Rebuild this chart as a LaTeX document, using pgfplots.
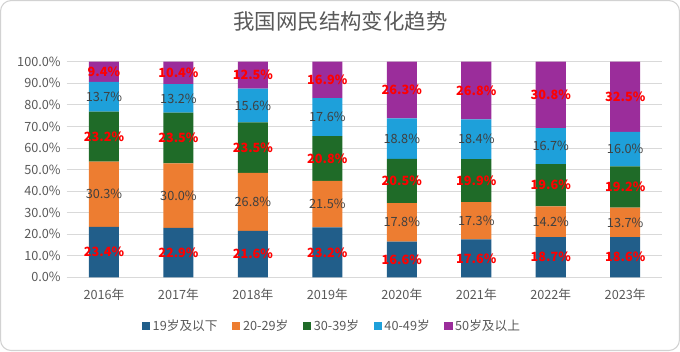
\documentclass[border=0pt]{standalone}
\usepackage{fontspec}
\setmainfont{Noto Sans CJK SC}
\usepackage{pgfplots}
\usepackage{pgfplotstable}
\pgfplotsset{compat=1.18}
\definecolor{cA}{HTML}{215E8A}
\definecolor{cB}{HTML}{ED7D31}
\definecolor{cC}{HTML}{1F6B28}
\definecolor{cD}{HTML}{1EA0DA}
\definecolor{cE}{HTML}{9B2D9B}
\definecolor{txt}{HTML}{595959}
\definecolor{lab}{HTML}{404040}
\definecolor{rd}{HTML}{FF0000}
\pgfplotstableread{
x s1 s2 s3 s4 s5
0 23.4 30.3 23.2 13.7 9.4
1 22.9 30.0 23.5 13.2 10.4
2 21.6 26.8 23.5 15.6 12.5
3 23.2 21.5 20.8 17.6 16.9
4 16.6 17.8 20.5 18.8 26.3
5 17.6 17.3 19.9 18.4 26.8
6 18.7 14.2 19.6 16.7 30.8
7 18.6 13.7 19.2 16.0 32.5
}\datatable
\pgfplotsset{
  seglabel/.style 2 args={
    visualization depends on={rawy\as\rawv},
    nodes near coords={\pgfmathprintnumber[fixed,fixed zerofill,precision=1]{\rawv}\%},
    every node near coord/.append style={anchor=center, text=#1, font=\fontsize{9.5}{11}\selectfont#2},
  },
}
\begin{document}
\begin{tikzpicture}
\draw[gray!35, line width=0.8pt, rounded corners=8pt] (-49.5pt,-54.75pt) rectangle (458.25pt,207pt);
\node[text=txt, font=\fontsize{16}{18}\selectfont] at (204.75pt,191.25pt) {我国网民结构变化趋势};
\begin{axis}[
  at={(0pt,0pt)}, anchor=south west,
  scale only axis, width=445.5pt, height=161.25pt,
  ybar stacked, bar width=22.5pt,
  xmin=-0.5, xmax=7.5, ymin=0, ymax=100,
  xtick={0,...,7},
  xticklabels={2016年,2017年,2018年,2019年,2020年,2021年,2022年,2023年},
  ytick={0,10,...,100},
  yticklabel={\pgfmathprintnumber[fixed,fixed zerofill,precision=1]{\tick}\%},
  /pgf/number format/assume math mode=true,
  ymajorgrids, grid style={draw=gray!30, line width=0.6pt},
  axis line style={draw=none}, tick style={draw=none},
  ticklabel style={text=txt, font=\fontsize{9.5}{11}\selectfont},
  yticklabel style={xshift=-1pt},
  xticklabel style={yshift=-5pt},
  legend columns=5,
  legend style={at={(0.446,-0.228)}, anchor=center, draw=none, fill=none,
     font=\fontsize{9.5}{11}\selectfont, text=txt,
     /tikz/every even column/.append style={column sep=9pt}},
  legend image code/.code={\fill[#1] (0pt,-3pt) rectangle (6pt,3pt);},
]
\addplot[fill=cA, draw=none, seglabel={rd}{\bfseries}] table[x=x, y=s1] {\datatable};
\addplot[fill=cB, draw=none, seglabel={lab}{}] table[x=x, y=s2] {\datatable};
\addplot[fill=cC, draw=none, seglabel={rd}{\bfseries}] table[x=x, y=s3] {\datatable};
\addplot[fill=cD, draw=none, seglabel={lab}{}] table[x=x, y=s4] {\datatable};
\addplot[fill=cE, draw=none, seglabel={rd}{\bfseries}] table[x=x, y=s5] {\datatable};
\legend{19岁及以下,20-29岁,30-39岁,40-49岁,50岁及以上}
\end{axis}
\end{tikzpicture}
\end{document}
